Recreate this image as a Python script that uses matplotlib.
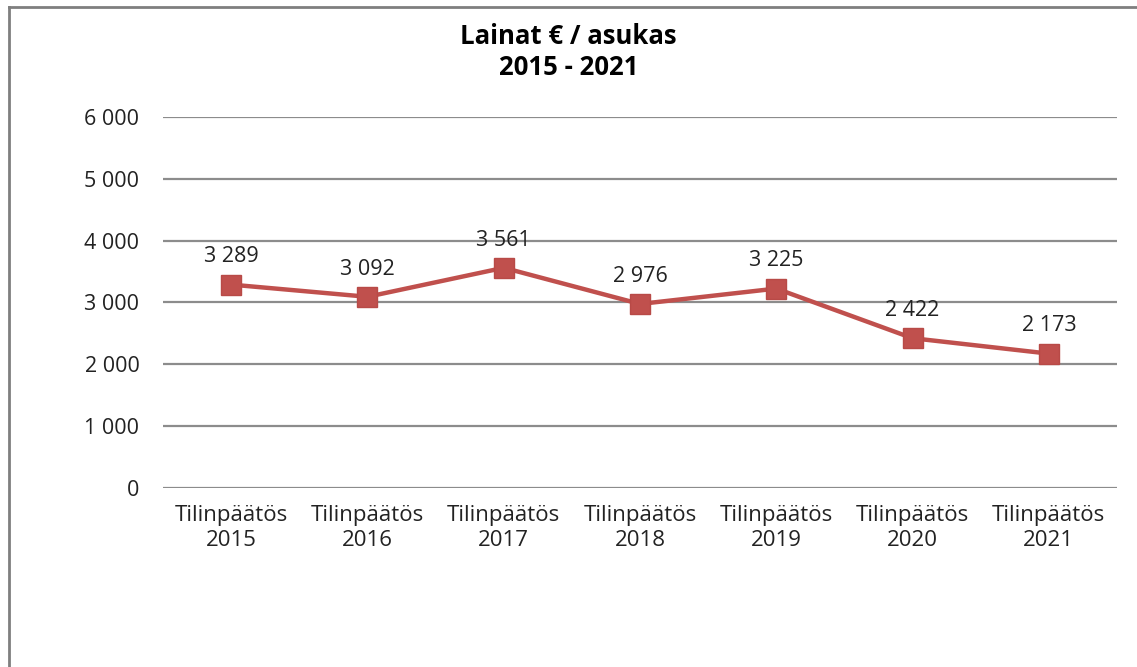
import matplotlib.pyplot as plt
from matplotlib.lines import Line2D

# data
years = ['2015', '2016', '2017', '2018', '2019', '2020', '2021']
categories = ['Tilinpäätös\n' + y for y in years]
lainat = [3289, 3092, 3561, 2976, 3225, 2422, 2173]
yticks = [0, 1000, 2000, 3000, 4000, 5000, 6000]

def fmt(v):
    return f'{v:,}'.replace(',', ' ')

plt.rcParams['font.family'] = ['Open Sans', 'DejaVu Sans']

fig = plt.figure(figsize=(11.37, 6.67), dpi=100)
ax = fig.add_axes([0.1434, 0.2684, 0.839, 0.5562])

x = range(len(lainat))
ax.plot(x, lainat, color='#C0504D', linewidth=3.2, marker='s', markersize=14,
        markerfacecolor='#C0504D', markeredgecolor='#B84A47', zorder=3)

for xi, v in zip(x, lainat):
    ax.annotate(fmt(v), (xi, v), xytext=(0, 20), textcoords='offset points',
                ha='center', va='center', fontsize=15.5, color='#222222')

ax.set_xlim(-0.5, 6.5)
ax.set_ylim(0, 6000)
ax.set_yticks(yticks)
ax.set_yticklabels([fmt(t) for t in yticks], fontsize=15.5, color='#222222')
ax.set_xticks(list(x))
ax.set_xticklabels(categories, fontsize=16, color='#222222', linespacing=1.3)
ax.grid(axis='y', color='#8c8c8c', linewidth=1.6)
ax.set_axisbelow(True)
for s in ax.spines.values():
    s.set_visible(False)
ax.tick_params(axis='both', length=0)
ax.tick_params(axis='y', pad=17)
ax.tick_params(axis='x', pad=12)

fig.text(0.5, 0.922, 'Lainat € / asukas\n2015 - 2021', ha='center', va='center',
         fontsize=18.5, fontweight='bold', family=['Open Sans', 'DejaVu Sans'], linespacing=1.2)

# outer frame (left and top only visible)
fig.add_artist(Line2D([9 / 1137, 9 / 1137], [0, 1 - 7 / 667], transform=fig.transFigure,
                      color='#7f7f7f', linewidth=2))
fig.add_artist(Line2D([9 / 1137, 1], [1 - 7 / 667, 1 - 7 / 667], transform=fig.transFigure,
                      color='#7f7f7f', linewidth=2))

fig.savefig('out.png', dpi=100)
